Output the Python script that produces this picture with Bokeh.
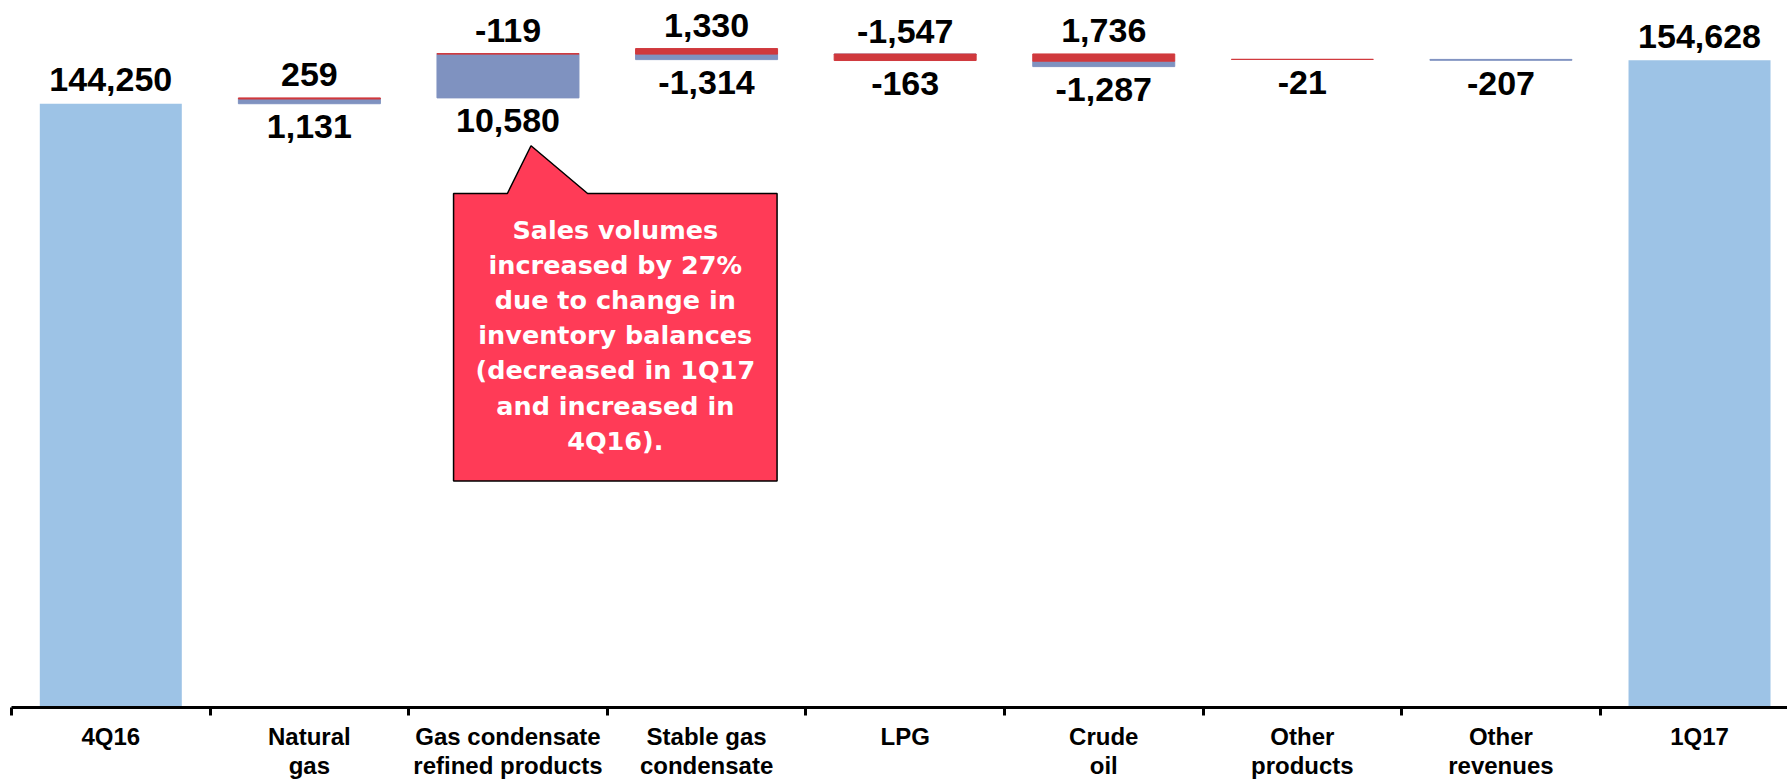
import math
from bokeh.plotting import figure
from bokeh.models import ColumnDataSource, Range1d, FixedTicker
from bokeh.core.properties import value
from bokeh.embed import file_html
from bokeh.resources import INLINE

# ---------------- data ----------------
categories = ["4Q16", "Natural\ngas", "Gas condensate\nrefined products", "Stable gas\ncondensate",
              "LPG", "Crude\noil", "Other\nproducts", "Other\nrevenues", "1Q17"]
start_total = 144250
end_total = 154628
# components for the 7 middle categories
volume_effect = [1131, 10580, -1314, -163, -1287, 0, -207]
price_effect = [259, -119, 1330, -1547, 1736, -21, 0]
callout_lines = ["Sales volumes", "increased by 27%", "due to change in", "inventory balances",
                 "(decreased in 1Q17", "and increased in", "4Q16)."]

# ---------------- colours / styles ----------------
C_TOTAL = "#9DC3E6"
C_BLUE = "#7F92C0"
C_RED = "#D0393D"
C_CALLOUT = "#FF3B57"
LABEL_FONT = "Liberation Sans"

n = len(categories)
centers = [i + 0.5 for i in range(n)]
BAR_W = 0.715

p = figure(frame_width=1776, frame_height=699, x_range=Range1d(0, 8.943), y_range=Range1d(0, 167000),
           output_backend="svg", toolbar_location=None, min_border_left=11, min_border_right=0,
           min_border_top=8, min_border_bottom=0, outline_line_color=None, background_fill_color="white")
p.grid.visible = False
p.yaxis.visible = False

# totals
tot_src = ColumnDataSource(dict(x=[centers[0], centers[-1]], top=[start_total, end_total],
                                lab=[f"{start_total:,}", f"{end_total:,}"]))
p.vbar(x="x", top="top", bottom=0, width=BAR_W, source=tot_src, fill_color=C_TOTAL, line_color=None)

# middle components
bx, bb, bt, rx, rb, rt = [], [], [], [], [], []
ax, ay, atxt, lx, ly, ltxt = [], [], [], [], [], []
level = start_total
for k, (v, r) in enumerate(zip(volume_effect, price_effect)):
    xc = centers[k + 1]
    lo_b, hi_b = min(level, level + v), max(level, level + v)
    if v != 0:
        bx.append(xc); bb.append(lo_b); bt.append(hi_b)
    red_lo, red_hi = min(hi_b, hi_b + r), max(hi_b, hi_b + r)
    if r != 0:
        rx.append(xc); rb.append(red_lo); rt.append(red_hi)
    top_u = max(hi_b, red_hi) if r != 0 else hi_b
    bot_u = min(lo_b, red_lo) if r != 0 else lo_b
    if v != 0 and r != 0:
        ax.append(xc); ay.append(top_u); atxt.append(f"{r:,}")
        lx.append(xc); ly.append(bot_u); ltxt.append(f"{v:,}")
    else:
        val = v if v != 0 else r
        lx.append(xc); ly.append(bot_u); ltxt.append(f"{val:,}")
    level = level + v + r

p.vbar(x=bx, bottom=bb, top=bt, width=BAR_W, fill_color=C_BLUE, line_color=C_BLUE, line_width=1)
p.vbar(x=rx, bottom=rb, top=rt, width=BAR_W, fill_color=C_RED, line_color=C_RED, line_width=1)

common = dict(text_font=value(LABEL_FONT), text_font_style="bold", text_font_size="34px",
              text_color="black", text_align="center", text_baseline="alphabetic")
p.text(x="x", y="top", text="lab", source=tot_src, y_offset=-24, **common)
p.text(x=ax, y=ay, text=atxt, y_offset=-23, **common)
p.text(x=lx, y=ly, text=ltxt, y_offset=23, **common)

# callout (pointing at the gas condensate bar)
box_l, box_r = 2.226, 3.855
box_t, box_b = 122800, 54100
ptr_l, ptr_r, tip_x, tip_y = 2.497, 2.901, 2.616, 134200
p.patch(x=[box_l, ptr_l, tip_x, ptr_r, box_r, box_r, box_l, box_l],
        y=[box_t, box_t, tip_y, box_t, box_t, box_b, box_b, box_t],
        fill_color=C_CALLOUT, line_color="black", line_width=1.5)
cx = (box_l + box_r) / 2
p.text(x=[cx] * len(callout_lines), y=[box_t] * len(callout_lines), text=callout_lines,
       y_offset=[36 + 35.2 * i for i in range(len(callout_lines))],
       text_font=value("DejaVu Sans"), text_font_style="bold", text_font_size="25.5px",
       text_color="white", text_align="center", text_baseline="middle")

# x axis: labels at category centres, tick marks at boundaries
xa = p.xaxis[0]
xa.ticker = FixedTicker(ticks=centers, minor_ticks=list(range(n + 1)))
xa.major_label_overrides = {c: lab for c, lab in zip(centers, categories)}
xa.major_tick_line_color = None
xa.major_tick_out = 0
xa.major_tick_in = 0
xa.minor_tick_line_color = "black"
xa.minor_tick_line_width = 3
xa.minor_tick_out = 8
xa.minor_tick_in = 0
xa.axis_line_color = "black"
xa.axis_line_width = 3
xa.major_label_standoff = 7
xa.major_label_text_font = LABEL_FONT
xa.major_label_text_font_style = "bold"
xa.major_label_text_font_size = "24px"
xa.major_label_text_line_height = 1.1
xa.major_label_text_color = "black"

open("out.html", "w").write(file_html(p, INLINE))
